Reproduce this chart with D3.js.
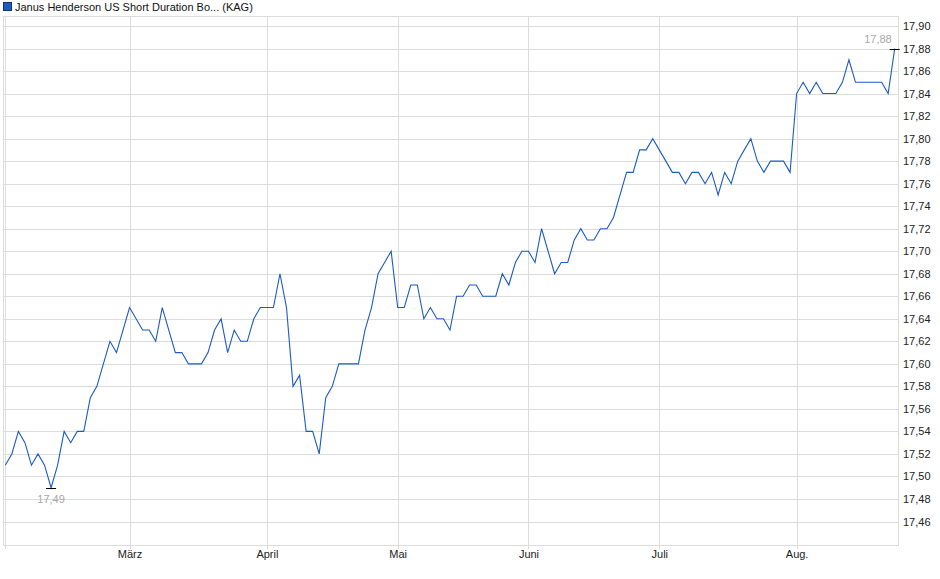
<!DOCTYPE html>
<html>
<head>
<meta charset="utf-8">
<script src="https://cdn.jsdelivr.net/npm/d3@7"></script>
<style>
body { margin: 0; background: #fff; }
text { font-family: "Liberation Sans", Arial, sans-serif; }
</style>
</head>
<body>
<div id="chart"></div>
<script>
var width = 940;
var height = 579;

// daily closing prices (trading days)
var prices = [
	17.51, 17.52, 17.54, 17.53, 17.51, 17.52, 17.51, 17.49, 17.51, 17.54,
	17.53, 17.54, 17.54, 17.57, 17.58, 17.60, 17.62, 17.61, 17.63, 17.65,
	17.64, 17.63, 17.63, 17.62, 17.65, 17.63, 17.61, 17.61, 17.60, 17.60,
	17.60, 17.61, 17.63, 17.64, 17.61, 17.63, 17.62, 17.62, 17.64, 17.65,
	17.65, 17.65, 17.68, 17.65, 17.58, 17.59, 17.54, 17.54, 17.52, 17.57,
	17.58, 17.60, 17.60, 17.60, 17.60, 17.63, 17.65, 17.68, 17.69, 17.70,
	17.65, 17.65, 17.67, 17.67, 17.64, 17.65, 17.64, 17.64, 17.63, 17.66,
	17.66, 17.67, 17.67, 17.66, 17.66, 17.66, 17.68, 17.67, 17.69, 17.70,
	17.70, 17.69, 17.72, 17.70, 17.68, 17.69, 17.69, 17.71, 17.72, 17.71,
	17.71, 17.72, 17.72, 17.73, 17.75, 17.77, 17.77, 17.79, 17.79, 17.80,
	17.79, 17.78, 17.77, 17.77, 17.76, 17.77, 17.77, 17.76, 17.77, 17.75,
	17.77, 17.76, 17.78, 17.79, 17.80, 17.78, 17.77, 17.78, 17.78, 17.78,
	17.77, 17.84, 17.85, 17.84, 17.85, 17.84, 17.84, 17.84, 17.85, 17.87,
	17.85, 17.85, 17.85, 17.85, 17.85, 17.84, 17.88
];

// month starts (index of first trading day)
var monthNames = ["März", "April", "Mai", "Juni", "Juli", "Aug."];
var monthIndex = [19, 40, 60, 80, 100, 121];

var yTicks = [17.46, 17.48, 17.50, 17.52, 17.54, 17.56, 17.58, 17.60, 17.62, 17.64,
	17.66, 17.68, 17.70, 17.72, 17.74, 17.76, 17.78, 17.80, 17.82, 17.84, 17.86, 17.88, 17.90];

var title = "Janus Henderson US Short Duration Bo... (KAG)";

var plot = { left: 3, right: 898, top: 16, bottom: 545 };

var svg = d3
	.select("#chart")
	.append("svg")
	.attr("width", width)
	.attr("height", height);

var xscale = d3.scaleLinear().domain([0, prices.length - 1]).range([5.3, 894.7]);
var yscale = d3.scaleLinear().domain([17.46, 17.90]).range([521.5, 26]);

var fmt = function (v) {
	return d3.format(".2f")(v).replace(".", ",");
};

// horizontal grid
svg.append("g")
	.selectAll("line")
	.data(yTicks)
	.enter()
	.append("line")
	.attr("x1", plot.left)
	.attr("x2", plot.right)
	.attr("y1", (d) => Math.round(yscale(d)) + 0.5)
	.attr("y2", (d) => Math.round(yscale(d)) + 0.5)
	.attr("stroke", "#dcdcdc");

// vertical grid (month starts + first day)
svg.append("g")
	.selectAll("line")
	.data([0].concat(monthIndex))
	.enter()
	.append("line")
	.attr("x1", (d) => Math.round(xscale(d)) + 0.5)
	.attr("x2", (d) => Math.round(xscale(d)) + 0.5)
	.attr("y1", plot.top)
	.attr("y2", plot.bottom + 4)
	.attr("stroke", "#dcdcdc");

// frame
svg.append("rect")
	.attr("x", plot.left + 0.5)
	.attr("y", plot.top + 0.5)
	.attr("width", plot.right - plot.left)
	.attr("height", plot.bottom - plot.top)
	.attr("fill", "none")
	.attr("stroke", "#dcdcdc");

// right axis labels
var yAxis = d3.axisRight(yscale).tickValues(yTicks).tickFormat(fmt).tickSize(0).tickPadding(5);
var yaxisG = svg.append("g")
	.attr("transform", `translate(${plot.right},0)`)
	.call(yAxis);
yaxisG.select(".domain").remove();
yaxisG.selectAll("text")
	.attr("font-size", "11px")
	.attr("font-family", "Liberation Sans, Arial, sans-serif")
	.attr("fill", "#222");

// month labels
var xAxis = d3.axisBottom(xscale)
	.tickValues(monthIndex)
	.tickFormat((d, i) => monthNames[i])
	.tickSize(0)
	.tickPadding(5);
var xaxisG = svg.append("g")
	.attr("transform", `translate(0,${plot.bottom})`)
	.call(xAxis);
xaxisG.select(".domain").remove();
xaxisG.selectAll("text")
	.attr("font-size", "11px")
	.attr("font-family", "Liberation Sans, Arial, sans-serif")
	.attr("fill", "#222");

// price line
var line = d3.line()
	.x((d, i) => xscale(i))
	.y((d) => yscale(d));

svg.append("path")
	.datum(prices)
	.attr("d", line)
	.attr("fill", "none")
	.attr("stroke", "#1c5bc5")
	.attr("stroke-width", 1.1);

// min / max markers
var minI = d3.minIndex(prices);
var maxI = d3.maxIndex(prices);

[minI, maxI].forEach(function (i) {
	svg.append("line")
		.attr("x1", xscale(i) - 5)
		.attr("x2", xscale(i) + 5)
		.attr("y1", Math.round(yscale(prices[i])) + 0.5)
		.attr("y2", Math.round(yscale(prices[i])) + 0.5)
		.attr("stroke", "#000");
});

svg.append("text")
	.text(fmt(prices[minI]))
	.attr("x", xscale(minI))
	.attr("y", yscale(prices[minI]) + 15)
	.attr("text-anchor", "middle")
	.attr("font-size", "11px")
	.attr("fill", "#a8a8a8");

svg.append("text")
	.text(fmt(prices[maxI]))
	.attr("x", xscale(maxI) - 3)
	.attr("y", yscale(prices[maxI]) - 6)
	.attr("text-anchor", "end")
	.attr("font-size", "11px")
	.attr("fill", "#a8a8a8");

// legend
svg.append("rect")
	.attr("x", 3.5)
	.attr("y", 2.5)
	.attr("width", 8)
	.attr("height", 8)
	.attr("fill", "#1c5bc5")
	.attr("stroke", "#1a2f66");

svg.append("text")
	.text(title)
	.attr("x", 15)
	.attr("y", 10.5)
	.attr("font-size", "11px")
	.attr("fill", "#111");
</script>
</body>
</html>
